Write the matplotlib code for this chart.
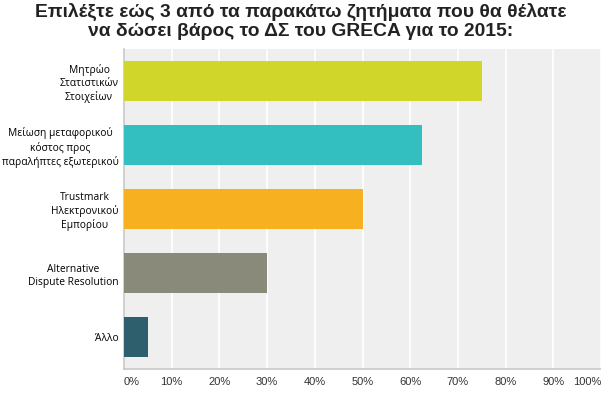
import matplotlib
matplotlib.use("Agg")
import matplotlib.pyplot as plt

# --- data -------------------------------------------------------------------
categories = [
    "Μητρώο\nΣτατιστικών\nΣτοιχείων",
    "Μείωση μεταφορικού\nκόστος προς\nπαραλήπτες εξωτερικού",
    "Trustmark\nΗλεκτρονικού\nΕμπορίου",
    "Alternative\nDispute Resolution",
    "Άλλο",
]
values = [75.0, 62.5, 50.0, 30.0, 5.0]
colors = ["#D0D62A", "#33BEBF", "#F7B01F", "#8A8A7A", "#2E5F6C"]
xticks = list(range(0, 101, 10))
xtick_labels = [f"{t}%" for t in xticks]
title = ("Επιλέξτε εώς 3 από τα παρακάτω ζητήματα που θα θέλατε\n"
         "να δώσει βάρος το ΔΣ του GRECA για το 2015:")

# --- figure -----------------------------------------------------------------
fig = plt.figure(figsize=(6.01, 3.95), dpi=100)
ax = fig.add_axes([124 / 601, 1 - 369 / 395, 1 - 124 / 601, 320 / 395])
ax.set_facecolor("#EFEFEF")

ypos = list(range(len(categories)))
ax.barh(ypos, values, height=0.625, color=colors, zorder=3)
ax.set_ylim(len(categories) - 0.5, -0.5)
ax.set_xlim(0, 100)

ax.set_xticks(xticks)
ax.set_xticklabels(xtick_labels, fontsize=8, family="Liberation Sans",
                   color="#333333")
ax.grid(axis="x", color="white", lw=1.2, zorder=1)
ax.tick_params(axis="x", length=0, pad=6)
ax.tick_params(axis="y", length=0, pad=4)
ax.get_xticklabels()[0].set_ha("left")
ax.get_xticklabels()[-1].set_ha("right")

ax.set_yticks(ypos)
ax.set_yticklabels(categories, fontsize=7.4, family="Open Sans",
                   color="#000000", multialignment="center", linespacing=1.25)

for side in ["top", "right"]:
    ax.spines[side].set_visible(False)
for side in ["left", "bottom"]:
    ax.spines[side].set_color("#C8C8C8")
    ax.spines[side].set_linewidth(1.2)

fig.text(0.5, 0.992, title, ha="center", va="top", fontsize=13.9,
         fontweight="bold", family="Liberation Sans", color="#222222",
         linespacing=1.1)

fig.savefig("out.png", dpi=100)
